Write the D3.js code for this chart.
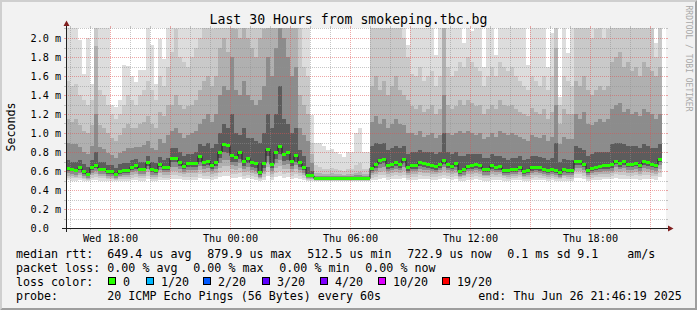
<!DOCTYPE html>
<html><head><meta charset="utf-8">
<script src="https://cdn.jsdelivr.net/npm/d3@7"></script>
<style>
html,body{margin:0;padding:0;background:#f2f2f2}
svg{display:block}
text{font-family:"DejaVu Sans Mono",monospace;fill:#000}
</style>
</head><body>
<svg id="chart" width="697" height="310"></svg>
<script>
// ---------------- DATA (ms) ----------------
// one value per 12-minute column, first column starts Wed 15:48
const median = [0.63,0.62,0.61,0.635,0.59,0.565,0.635,0.66,0.62,0.62,
0.59,0.59,0.565,0.595,0.605,0.605,0.64,0.655,0.62,0.62,
0.685,0.615,0.605,0.67,0.64,0.64,0.735,0.735,0.69,0.65,
0.675,0.675,0.675,0.755,0.69,0.705,0.655,0.685,0.80,0.88,
0.865,0.76,0.745,0.80,0.70,0.735,0.69,0.675,0.58,0.68,
0.83,0.67,0.80,0.86,0.775,0.79,0.705,0.76,0.685,0.64,
0.55,0.55,0.52,0.52,0.52,0.52,0.52,0.52,0.52,0.52,
0.52,0.52,0.52,0.52,0.52,0.52,0.63,0.665,0.71,0.72,
0.655,0.67,0.69,0.67,0.72,0.635,0.655,0.655,0.69,0.675,
0.665,0.655,0.645,0.665,0.71,0.67,0.65,0.675,0.595,0.615,
0.65,0.655,0.665,0.655,0.615,0.615,0.655,0.64,0.645,0.61,
0.605,0.62,0.62,0.64,0.59,0.605,0.635,0.64,0.635,0.62,
0.605,0.62,0.605,0.58,0.615,0.605,0.605,0.705,0.70,0.67,
0.605,0.63,0.64,0.65,0.655,0.655,0.665,0.705,0.68,0.695,
0.67,0.67,0.68,0.66,0.695,0.685,0.67,0.66,0.725,null];

// sorted ping ranks (of 20) per column, upper side
const ping20 = [2.5,2.5,2.5,1.98,1.62,2.0,1.52,2.5,2.5,2.5,
2.5,1.3,1.27,1.35,1.72,1.71,1.6,1.54,1.66,1.66,
2.5,1.93,1.52,1.99,1.78,2.5,2.5,2.5,2.5,2.5,
2.5,2.5,2.5,2.5,2.5,2.5,2.5,2.5,2.5,2.5,
2.5,2.5,2.5,2.5,2.5,2.5,2.5,2.5,2.5,2.5,
2.5,2.5,2.5,2.5,2.5,2.5,2.5,2.5,2.5,2.5,
2.5,1.19,0.9,0.89,0.86,0.82,0.83,0.80,0.78,0.75,
0.80,0.80,1.0,1.05,0.8,0.8,2.5,2.5,2.5,2.5,
2.5,2.5,2.5,2.5,2.5,1.93,2.5,2.5,2.5,2.5,
2.5,2.5,1.82,2.5,2.5,2.5,2.5,2.5,2.5,1.95,
2.5,2.07,2.5,2.5,1.70,2.5,2.5,1.82,2.5,2.5,
2.5,2.5,2.5,2.5,2.5,1.72,2.5,2.5,2.5,2.5,
1.69,2.05,2.5,1.38,2.5,1.84,2.5,2.5,2.5,2.5,
2.5,2.5,2.5,2.5,2.5,2.5,2.5,2.5,2.5,2.5,
2.5,2.5,2.5,2.5,2.5,2.5,2.5,1.95,2.5,null];

const ping18 = [1.55,1.50,1.52,1.40,1.35,1.30,1.35,2.5,1.45,1.40,
1.30,1.20,1.15,1.20,1.30,1.40,1.35,1.30,1.40,1.45,
1.55,1.45,1.35,1.60,1.50,1.70,1.85,2.10,1.80,1.75,
1.70,1.80,1.90,2.00,2.20,2.30,2.10,2.20,2.5,2.5,
2.5,2.5,2.5,2.5,2.5,2.5,2.5,2.5,2.5,2.5,
2.5,2.5,2.5,2.5,2.5,2.5,2.5,2.5,2.5,1.7,
1.6,0.9,0.66,0.64,0.62,0.62,0.63,0.62,0.61,0.60,
0.62,0.62,0.66,0.68,0.62,0.62,2.5,2.5,2.3,2.5,
2.2,2.5,2.5,2.4,2.0,1.8,1.62,1.60,1.70,1.55,
1.60,1.65,1.50,1.60,2.5,1.70,1.60,1.65,1.75,1.70,
1.80,1.75,1.70,1.65,1.50,1.60,1.70,1.60,1.75,1.70,
1.65,1.70,1.60,1.55,1.50,1.45,1.60,1.55,1.50,1.60,
1.45,1.60,2.5,1.30,1.60,1.55,1.50,2.5,2.3,2.5,
2.2,2.0,2.1,2.2,2.0,2.1,2.5,2.5,2.5,2.5,
2.5,2.5,2.5,2.5,2.5,2.5,2.5,1.8,2.5,null];

const ping16 = [1.15,1.12,1.15,1.08,1.02,1.00,1.08,1.92,1.08,1.05,
1.00,0.95,0.92,0.98,1.05,1.10,1.05,1.05,1.10,1.12,
1.18,1.10,1.05,1.22,1.18,1.30,1.30,1.40,1.30,1.25,
1.28,1.30,1.35,1.45,1.55,1.60,1.50,1.60,1.90,2.00,
1.85,2.5,2.10,2.00,2.20,2.00,1.90,1.80,2.00,2.10,
2.5,2.30,2.5,2.5,2.5,2.40,2.20,2.30,1.40,1.30,
1.20,0.78,0.58,0.58,0.57,0.57,0.58,0.57,0.57,0.56,
0.57,0.57,0.58,0.59,0.57,0.57,1.50,1.60,1.45,1.55,
1.40,1.50,1.60,1.45,1.40,1.35,1.28,1.25,1.30,1.22,
1.25,1.30,1.20,1.25,2.5,1.30,1.25,1.28,1.35,1.30,
1.35,1.32,1.28,1.30,1.20,1.25,1.30,1.25,1.35,1.30,
1.28,1.30,1.25,1.22,1.20,1.18,1.26,1.22,1.20,1.25,
1.15,1.22,1.90,1.10,1.25,1.20,1.20,1.55,1.50,1.60,
1.45,1.40,1.45,1.50,1.45,1.50,1.75,1.80,1.85,1.70,
1.75,1.65,1.70,1.60,1.75,1.70,1.65,1.60,1.70,null];

const ping14 = [0.90,0.88,0.88,0.85,0.80,0.78,0.86,1.20,0.85,0.83,
0.79,0.77,0.74,0.79,0.81,0.84,0.84,0.85,0.85,0.87,
0.92,0.84,0.82,0.94,0.90,0.98,1.02,1.05,1.00,0.95,
0.98,1.00,1.02,1.10,1.15,1.20,1.12,1.20,1.40,1.50,
1.45,1.80,1.45,1.40,1.55,1.40,1.35,1.30,1.35,1.50,
1.80,1.60,1.90,2.50,2.00,1.80,1.60,1.70,1.05,0.98,
0.92,0.68,0.55,0.55,0.55,0.55,0.55,0.55,0.55,0.545,
0.55,0.55,0.56,0.56,0.55,0.55,1.12,1.18,1.10,1.15,
1.05,1.10,1.15,1.10,1.08,1.00,1.00,0.98,1.02,0.96,
0.98,1.00,0.95,0.98,1.40,1.00,0.98,1.00,1.02,1.00,
1.02,1.00,0.98,1.00,0.94,0.96,1.00,0.96,1.02,1.00,
0.98,1.00,0.98,0.96,0.94,0.92,0.98,0.96,0.95,0.98,
0.92,0.96,1.30,0.88,0.96,0.94,0.94,1.20,1.15,1.22,
1.10,1.08,1.12,1.15,1.12,1.15,1.25,1.30,1.32,1.22,
1.25,1.20,1.22,1.18,1.25,1.22,1.20,1.15,1.20,null];

const ping12 = [0.72,0.70,0.70,0.72,0.67,0.64,0.72,0.80,0.70,0.70,
0.66,0.66,0.63,0.67,0.68,0.68,0.72,0.73,0.70,0.70,
0.76,0.70,0.68,0.75,0.72,0.74,0.84,0.84,0.80,0.76,
0.78,0.78,0.80,0.88,0.86,0.90,0.84,0.88,1.00,1.10,
1.05,1.20,1.00,0.98,1.05,0.95,0.95,0.92,0.90,1.00,
1.20,1.05,1.20,1.50,1.15,1.10,1.00,1.05,0.82,0.76,
0.64,0.60,0.535,0.535,0.535,0.535,0.535,0.535,0.535,0.535,
0.535,0.535,0.54,0.54,0.535,0.535,0.86,0.90,0.88,0.90,
0.82,0.84,0.86,0.84,0.86,0.78,0.80,0.80,0.82,0.80,
0.80,0.80,0.78,0.80,1.00,0.80,0.78,0.80,0.76,0.76,
0.78,0.78,0.78,0.78,0.74,0.74,0.78,0.76,0.76,0.74,
0.72,0.74,0.74,0.76,0.72,0.73,0.76,0.76,0.75,0.74,
0.72,0.74,0.90,0.70,0.73,0.72,0.72,0.86,0.84,0.82,
0.76,0.78,0.80,0.80,0.80,0.80,0.88,0.90,0.90,0.88,
0.86,0.86,0.86,0.84,0.88,0.86,0.84,0.84,0.88,null];

// lower side ranks
const ping9 = [0.60,0.595,0.585,0.61,0.565,0.545,0.61,0.63,0.595,0.595,
0.565,0.565,0.545,0.57,0.58,0.58,0.61,0.625,0.595,0.595,
0.65,0.59,0.58,0.64,0.61,0.61,0.69,0.69,0.65,0.62,
0.64,0.64,0.64,0.70,0.65,0.665,0.625,0.65,0.74,0.80,
0.79,0.70,0.69,0.73,0.65,0.68,0.64,0.63,0.555,0.63,
0.76,0.63,0.73,0.78,0.71,0.72,0.655,0.70,0.64,0.61,
0.535,0.535,0.512,0.512,0.512,0.512,0.512,0.512,0.512,0.512,
0.512,0.512,0.512,0.512,0.512,0.512,0.60,0.63,0.67,0.68,
0.625,0.635,0.655,0.635,0.68,0.605,0.625,0.625,0.655,0.64,
0.635,0.625,0.615,0.635,0.67,0.635,0.62,0.64,0.57,0.585,
0.62,0.625,0.635,0.625,0.585,0.585,0.625,0.61,0.615,0.58,
0.575,0.59,0.59,0.61,0.565,0.575,0.605,0.61,0.605,0.59,
0.575,0.59,0.575,0.555,0.585,0.575,0.575,0.665,0.665,0.64,
0.575,0.60,0.61,0.62,0.625,0.625,0.635,0.67,0.645,0.66,
0.64,0.64,0.65,0.63,0.66,0.655,0.64,0.63,0.69,null];

const ping7 = [0.575,0.565,0.56,0.58,0.545,0.53,0.58,0.60,0.565,0.565,
0.545,0.545,0.53,0.55,0.555,0.555,0.585,0.595,0.565,0.565,
0.62,0.56,0.555,0.61,0.585,0.585,0.64,0.64,0.62,0.59,
0.61,0.61,0.61,0.65,0.62,0.63,0.595,0.62,0.68,0.72,
0.72,0.66,0.65,0.68,0.62,0.64,0.61,0.60,0.54,0.60,
0.70,0.60,0.68,0.72,0.66,0.67,0.62,0.66,0.61,0.58,
0.525,0.525,0.508,0.508,0.508,0.508,0.508,0.508,0.508,0.508,
0.508,0.508,0.508,0.508,0.508,0.508,0.575,0.60,0.63,0.64,
0.60,0.61,0.625,0.61,0.64,0.58,0.60,0.60,0.625,0.615,
0.61,0.60,0.59,0.61,0.64,0.61,0.595,0.615,0.55,0.56,
0.595,0.60,0.61,0.60,0.56,0.56,0.60,0.585,0.59,0.56,
0.555,0.565,0.565,0.585,0.545,0.555,0.58,0.585,0.58,0.565,
0.555,0.565,0.555,0.54,0.56,0.555,0.555,0.635,0.635,0.61,
0.555,0.575,0.585,0.59,0.60,0.60,0.605,0.64,0.62,0.63,
0.61,0.61,0.62,0.60,0.63,0.625,0.61,0.60,0.66,null];

const ping5 = [0.55,0.545,0.54,0.555,0.53,0.52,0.555,0.57,0.545,0.545,
0.53,0.53,0.52,0.535,0.54,0.54,0.56,0.565,0.545,0.545,
0.585,0.54,0.54,0.575,0.56,0.56,0.60,0.60,0.58,0.565,
0.575,0.575,0.575,0.61,0.58,0.59,0.565,0.58,0.63,0.65,
0.65,0.62,0.61,0.63,0.585,0.60,0.58,0.57,0.53,0.57,
0.64,0.57,0.63,0.65,0.62,0.62,0.585,0.62,0.58,0.56,
0.52,0.52,0.505,0.505,0.505,0.505,0.505,0.505,0.505,0.505,
0.505,0.505,0.505,0.505,0.505,0.505,0.555,0.57,0.59,0.60,
0.57,0.58,0.59,0.58,0.60,0.555,0.57,0.57,0.59,0.58,
0.575,0.57,0.565,0.575,0.60,0.58,0.57,0.58,0.535,0.545,
0.57,0.57,0.575,0.57,0.545,0.545,0.57,0.56,0.565,0.545,
0.54,0.55,0.55,0.56,0.535,0.54,0.555,0.56,0.555,0.55,
0.54,0.55,0.54,0.53,0.545,0.54,0.54,0.60,0.60,0.58,
0.54,0.555,0.56,0.565,0.57,0.57,0.575,0.60,0.585,0.595,
0.58,0.58,0.585,0.57,0.595,0.59,0.58,0.57,0.62,null];

const ping3 = [0.53,0.525,0.525,0.53,0.515,0.51,0.53,0.54,0.525,0.525,
0.515,0.515,0.51,0.52,0.52,0.52,0.53,0.535,0.525,0.525,
0.55,0.52,0.52,0.54,0.53,0.53,0.56,0.56,0.545,0.535,
0.54,0.54,0.54,0.57,0.545,0.55,0.535,0.545,0.58,0.60,
0.60,0.57,0.565,0.58,0.55,0.56,0.545,0.54,0.515,0.54,
0.59,0.54,0.58,0.60,0.57,0.575,0.55,0.57,0.545,0.53,
0.51,0.51,0.50,0.50,0.50,0.50,0.50,0.50,0.50,0.50,
0.50,0.50,0.50,0.50,0.50,0.50,0.53,0.54,0.555,0.56,
0.54,0.545,0.555,0.545,0.56,0.53,0.54,0.54,0.555,0.55,
0.545,0.54,0.535,0.545,0.56,0.55,0.54,0.55,0.52,0.525,
0.54,0.54,0.545,0.54,0.525,0.525,0.54,0.535,0.535,0.525,
0.52,0.53,0.53,0.535,0.52,0.52,0.53,0.535,0.53,0.53,
0.52,0.53,0.52,0.515,0.525,0.52,0.52,0.565,0.565,0.55,
0.52,0.53,0.535,0.54,0.54,0.54,0.545,0.565,0.555,0.56,
0.55,0.55,0.555,0.545,0.56,0.555,0.55,0.545,0.58,null];

const ping1 = [0.505,0.50,0.50,0.505,0.50,0.495,0.505,0.51,0.50,0.50,
0.50,0.50,0.495,0.50,0.50,0.50,0.505,0.51,0.50,0.50,
0.515,0.50,0.50,0.51,0.505,0.505,0.52,0.52,0.515,0.51,
0.51,0.51,0.51,0.53,0.515,0.52,0.51,0.515,0.54,0.55,
0.55,0.53,0.525,0.54,0.52,0.525,0.515,0.51,0.50,0.51,
0.545,0.51,0.54,0.55,0.53,0.535,0.52,0.53,0.515,0.505,
0.495,0.495,0.49,0.49,0.49,0.49,0.49,0.49,0.49,0.49,
0.49,0.49,0.49,0.49,0.49,0.49,0.505,0.51,0.52,0.525,
0.51,0.515,0.52,0.515,0.525,0.505,0.51,0.51,0.52,0.515,
0.515,0.51,0.51,0.515,0.525,0.515,0.51,0.515,0.50,0.50,
0.51,0.51,0.515,0.51,0.50,0.50,0.51,0.505,0.505,0.50,
0.50,0.505,0.505,0.51,0.50,0.50,0.505,0.51,0.505,0.505,
0.50,0.505,0.50,0.495,0.50,0.50,0.50,0.525,0.525,0.515,
0.50,0.505,0.51,0.51,0.515,0.515,0.515,0.525,0.52,0.52,
0.515,0.515,0.52,0.51,0.52,0.52,0.515,0.51,0.535,null];

const yTickValues = [0,0.2,0.4,0.6,0.8,1.0,1.2,1.4,1.6,1.8,2.0];
const yTickLabels = ["0.0","0.2 m","0.4 m","0.6 m","0.8 m","1.0 m","1.2 m","1.4 m","1.6 m","1.8 m","2.0 m"];

const titleText = "Last 30 Hours from smokeping.tbc.bg";
const yAxisTitle = "Seconds";
const watermark = "RRDTOOL / TOBI OETIKER";
const rowLabels = ["median rtt:","packet loss:","loss color:","probe:"];
const rttStats = ["649.4 us avg","879.9 us max","512.5 us min","722.9 us now","0.1 ms sd","9.1","am/s"];
const lossStats = ["0.00 % avg","0.00 % max","0.00 % min","0.00 % now"];
const lossLabels = ["0","1/20","2/20","3/20","4/20","10/20","19/20"];
const lossColors = ["#26ff00","#00b8ff","#0059ff","#5e00ff","#7e00ff","#dd00ff","#ff0000"];
const probeText = "20 ICMP Echo Pings (56 Bytes) every 60s";
const endText = "end: Thu Jun 26 21:46:19 2025";

// ---------------- LAYOUT ----------------
const W = 697, H = 310;
const X0 = 66, X1 = 666, Y0 = 228, Y1 = 28;
const tStart = new Date(2025,5,25,15,46,19);
const tEnd = new Date(2025,5,26,21,46,19);
const firstCol = new Date(2025,5,25,15,48,0);
const stepMin = 12;

const x = d3.scaleTime().domain([tStart,tEnd]).range([65.44,665.44]);
const y = d3.scaleLinear().domain([0,200/95]).range([Y0,Y1]);
const yMax = y.domain()[1];

const svg = d3.select("#chart");

// background + bevel
svg.append("rect").attr("width",W).attr("height",H).attr("fill","#f2f2f2");
svg.append("path").attr("d",`M0,${H}L2,${H-2}L2,2L${W-2},2L${W},0L0,0Z`).attr("fill","#cfcfcf");
svg.append("path").attr("d",`M2,${H-2}L${W-2},${H-2}L${W-2},2L${W},0L${W},${H}L0,${H}Z`).attr("fill","#9e9e9e");

// canvas
svg.append("rect").attr("x",X0).attr("y",Y1).attr("width",X1-X0).attr("height",Y0-Y1).attr("fill","#ffffff");

svg.append("clipPath").attr("id","plotclip").append("rect")
  .attr("x",X0).attr("y",Y1).attr("width",X1-X0).attr("height",Y0-Y1);

// columns
const cols = median.map((m,k)=>({k, m,
  t0: d3.timeMinute.offset(firstCol, stepMin*k),
  t1: d3.timeMinute.offset(firstCol, stepMin*(k+1))})).filter(d=>d.m!==null);

// smoke bands
const bands = [
  {lo:ping1, hi:ping20, color:"#dddddd"},
  {lo:ping3, hi:ping18, color:"#c9c9c9"},
  {lo:ping5, hi:ping16, color:"#b0b0b0"},
  {lo:ping7, hi:ping14, color:"#8c8c8c"},
  {lo:ping9, hi:ping12, color:"#5c5c5c"}
];
const smoke = svg.append("g").attr("clip-path","url(#plotclip)").attr("shape-rendering","crispEdges");
bands.forEach(b=>{
  smoke.append("g").selectAll("rect").data(cols).join("rect")
    .attr("x",d=>x(d.t0))
    .attr("width",d=>x(d.t1)-x(d.t0))
    .attr("y",d=>y(Math.min(b.hi[d.k],yMax)))
    .attr("height",d=>y(b.lo[d.k])-y(Math.min(b.hi[d.k],yMax)))
    .attr("fill",b.color);
});

// grid (drawn over the smoke like rrdtool)
const grid = svg.append("g").attr("shape-rendering","crispEdges");
const hours = d3.timeHour.range(d3.timeHour.ceil(tStart), tEnd);
const minorCol = "rgba(143,143,143,0.5)", majorCol = "rgba(222,79,79,0.5)";
hours.forEach(h=>{
  const xx = Math.round(x(h))+0.5;
  const major = h.getHours()%3===0;
  const c = major?majorCol:minorCol;
  grid.append("line").attr("x1",xx).attr("x2",xx).attr("y1",Y1).attr("y2",Y0)
    .attr("stroke",c).attr("stroke-dasharray","1,1");
  grid.append("line").attr("x1",xx).attr("x2",xx).attr("y1",Y1-2).attr("y2",Y1).attr("stroke",c);
  grid.append("line").attr("x1",xx).attr("x2",xx).attr("y1",Y0).attr("y2",Y0+2).attr("stroke",c);
});
d3.range(1,22).forEach(i=>{
  const v = i/10;
  const yy = Math.round(y(v))+0.5;
  const c = (i%2===0)?majorCol:minorCol;
  grid.append("line").attr("x1",X0).attr("x2",X1).attr("y1",yy).attr("y2",yy)
    .attr("stroke",c).attr("stroke-dasharray","1,1");
  grid.append("line").attr("x1",X0-2).attr("x2",X0).attr("y1",yy).attr("y2",yy).attr("stroke",c);
  grid.append("line").attr("x1",X1).attr("x2",X1+2).attr("y1",yy).attr("y2",yy).attr("stroke",c);
});

// median line + loss-colored blocks
const medPts = cols.map(d=>[x(d.t0), y(d.m)]);
const last = cols[cols.length-1];
medPts.push([x(last.t1), y(last.m)]);
svg.append("path").attr("clip-path","url(#plotclip)")
  .attr("d", d3.line().curve(d3.curveStepAfter)(medPts))
  .attr("fill","none").attr("stroke","#202020").attr("stroke-width",1);
svg.append("g").attr("clip-path","url(#plotclip)").attr("shape-rendering","crispEdges")
  .selectAll("rect").data(cols).join("rect")
  .attr("x",d=>x(d.t0)).attr("width",d=>x(d.t1)-x(d.t0))
  .attr("y",d=>y(d.m)-1.5).attr("height",3)
  .attr("fill",lossColors[0]);

// axes
const ax = svg.append("g").attr("shape-rendering","crispEdges");
ax.append("line").attr("x1",X0-4).attr("x2",X1+4).attr("y1",Y0+0.5).attr("y2",Y0+0.5).attr("stroke","#1f1f1f");
ax.append("line").attr("x1",X0+0.5).attr("x2",X0+0.5).attr("y1",Y0+4).attr("y2",Y1-4).attr("stroke","#1f1f1f");
svg.append("path").attr("d",`M${X1+2},${Y0-2.5}L${X1+2},${Y0+3.5}L${X1+7.5},${Y0+0.5}Z`).attr("fill","#801f1f");
svg.append("path").attr("d",`M${X0-2.5},${Y1-2}L${X0+3.5},${Y1-2}L${X0+0.5},${Y1-7.5}Z`).attr("fill","#801f1f");

// y tick labels
svg.append("g").selectAll("text").data(yTickValues).join("text")
  .attr("x",30.5).attr("y",d=>Math.round(y(d))+4)
  .attr("font-size","10.2px")
  .text((d,i)=>yTickLabels[i]);

// x tick labels
const labelHours = hours.filter(h=>h.getHours()%6===0);
svg.append("g").selectAll("text").data(labelHours).join("text")
  .attr("x",d=>Math.round(x(d))+0.5).attr("y",241.5)
  .attr("text-anchor","middle").attr("font-size","10.2px")
  .text(d3.timeFormat("%a %H:%M"));

// title, axis title, watermark
svg.append("text").attr("x",348.5).attr("y",24).attr("text-anchor","middle")
  .attr("font-size","13.2px").text(titleText);
svg.append("text").attr("transform","translate(15,127) rotate(-90)").attr("text-anchor","middle")
  .attr("font-size","11.66px").text(yAxisTitle);
svg.append("text").attr("transform","translate(686,58.5) rotate(90)").attr("text-anchor","middle")
  .attr("font-size","8px").style("fill","#a8a8a8").text(watermark);

// legend
const fs = "11.66px";
const rowY = [258,272,286,300];
const leg = svg.append("g").attr("font-size",fs);
rowLabels.forEach((t,i)=>leg.append("text").attr("x",16).attr("y",rowY[i]).text(t));
const rttX = [107.3,207.3,307.3,407.3,507.3,577.3,627.3];
rttStats.forEach((t,i)=>leg.append("text").attr("x",rttX[i]).attr("y",rowY[0]).text(t));
const lossX = [107.3,193.3,279.3,365.3];
lossStats.forEach((t,i)=>leg.append("text").attr("x",lossX[i]).attr("y",rowY[1]).text(t));
const boxX = [108,146,203,262,320,378,442];
lossLabels.forEach((t,i)=>{
  leg.append("rect").attr("x",boxX[i]+0.5).attr("y",277.5).attr("width",7).attr("height",7)
    .attr("fill",lossColors[i]).attr("stroke","#000").attr("stroke-width",1).attr("shape-rendering","crispEdges");
  leg.append("text").attr("x",boxX[i]+15).attr("y",rowY[2]).text(t);
});
leg.append("text").attr("x",107.3).attr("y",rowY[3]).text(probeText);
leg.append("text").attr("x",478.3).attr("y",rowY[3]).text(endText);
</script>
</body></html>
